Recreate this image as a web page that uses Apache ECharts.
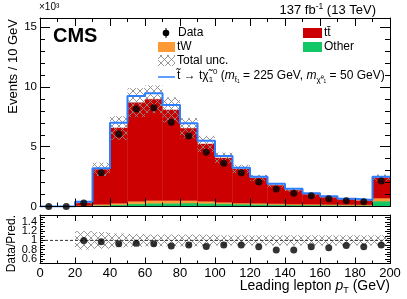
<!DOCTYPE html>
<html><head><meta charset="utf-8">
<script src="https://cdn.jsdelivr.net/npm/echarts@6/dist/echarts.min.js"></script>
<style>html,body{margin:0;padding:0;background:#fff}#c{width:407px;height:299px}</style>
</head><body><div id="c"></div>
<script>
// ---- data (thousands of events per 10 GeV bin) ----
const binLow   = [0,10,20,30,40,50,60,70,80,90,100,110,120,130,140,150,160,170,180,190];
const binWidth = 10;
const other  = [0,0,0.03,0.10,0.15,0.23,0.27,0.27,0.29,0.27,0.23,0.20,0.18,0.15,0.13,0.12,0.11,0.10,0.10,0.45];
const tW     = [0,0,0.05,0.08,0.12,0.20,0.24,0.24,0.21,0.16,0.12,0.09,0.09,0.08,0.07,0.07,0.06,0.05,0.04,0.25];
const ttbar  = [0,0,0.22,2.93,6.30,8.26,8.46,7.57,6.04,4.80,3.71,2.85,2.11,1.54,1.16,0.83,0.60,0.45,0.35,1.71];
const signal = [0,0,0.10,0.09,0.44,0.56,0.50,0.41,0.42,0.28,0.17,0.11,0.11,0.14,0.13,0.08,0.08,0.05,0.05,0.08];
const dataPts= [0,0,0.30,2.83,6.07,8.16,8.27,7.05,5.90,4.54,3.62,2.83,2.05,1.46,1.10,0.90,0.65,0.49,0.40,2.13];
const totUnc = [0,0,0.20,0.18,0.15,0.14,0.13,0.13,0.13,0.13,0.11,0.11,0.11,0.11,0.11,0.11,0.11,0.11,0.11,0.11];
const ratio  = [null,null,1.00,0.97,0.93,0.94,0.93,0.88,0.90,0.87,0.90,0.90,0.86,0.79,0.79,0.86,0.84,0.89,0.86,0.90];
const mainYTicks  = [0,5,10,15];
const ratioYTicks = [0.6,0.8,1,1.2,1.4];

// ---- styles ----
const FONT = '"Liberation Sans", Arial, Helvetica, sans-serif';
const C_TT = '#cc0000', C_TW = '#fd9a35', C_OTH = '#12c866', C_SIG = '#2d7dff';

function makeHatch(){
  const c = document.createElement('canvas'); c.width = 7; c.height = 7;
  const g = c.getContext('2d'); g.strokeStyle = '#8a8a8a'; g.lineWidth = 0.9;
  g.beginPath(); g.moveTo(0,0); g.lineTo(7,7); g.moveTo(7,0); g.lineTo(0,7); g.stroke();
  return c;
}
const hatch = {image: makeHatch(), repeat: 'repeat'};

const cum = (a,b) => a.map((v,i)=>v+b[i]);
const s1 = other, s2 = cum(s1,tW), s3 = cum(s2,ttbar), s4 = cum(s3,signal);

function histSeries(lo, hi, fill, xi, yi, z){
  return {
    type:'custom', xAxisIndex:xi, yAxisIndex:yi, silent:true, z: z||2,
    data: binLow.map((x,i)=>[x, x+binWidth, lo[i], hi[i]]).filter(d=>d[3]>d[2]),
    encode:{x:[0,1], y:[2,3]},
    renderItem(params, api){
      const a = api.coord([api.value(0), api.value(2)]);
      const b = api.coord([api.value(1), api.value(3)]);
      return {type:'rect', shape:{x:a[0], y:b[1], width:b[0]-a[0], height:a[1]-b[1]},
              style:{fill:fill, stroke: typeof fill==='string'?fill:null, lineWidth: typeof fill==='string'?0.4:0}};
    }
  };
}
const zeros = binLow.map(()=>0);
const uncLo = s3.map((v,i)=>v*(1-totUnc[i])), uncHi = s3.map((v,i)=>v*(1+totUnc[i]));
const rLo = totUnc.map((u,i)=> s3[i]>0 ? 1-u : 1), rHi = totUnc.map((u,i)=> s3[i]>0 ? 1+u : 1);

function xAx(grid, pos, labels, tl, ml){
  return {gridIndex:grid, type:'value', position:pos, min:0, max:200, interval:20, z:10,
    axisLine:{show:true, onZero:false, lineStyle:{color:'#000', width:1}},
    axisTick:{show:true, inside:true, length:tl, lineStyle:{color:'#000'}},
    minorTick:{show:true, splitNumber:2, length:ml, lineStyle:{color:'#000'}},
    splitLine:{show:false},
    axisLabel:{show:labels, fontSize:13, fontFamily:FONT, color:'#000', margin:3}};
}
const mainMax = 15.77;
function yMain(pos, labels){
  return {gridIndex:0, type:'value', position:pos, min:0, max:mainMax, interval:5, z:10,
    axisLine:{show:true, onZero:false, lineStyle:{color:'#000'}},
    axisTick:{show:true, inside:true, length:10, lineStyle:{color:'#000'}},
    minorTick:{show:true, splitNumber:5, length:5, lineStyle:{color:'#000'}},
    splitLine:{show:false},
    axisLabel:{show:labels, fontSize:11.5, fontFamily:FONT, color:'#000', margin:3,
      formatter: v => mainYTicks.some(t=>Math.abs(t-v)<1e-6) ? String(Math.round(v)) : ''}};
}
function yRatio(pos, labels){
  return {gridIndex:1, type:'value', position:pos, min:0.5, max:1.55, interval:0.1, z:10,
    axisLine:{show:true, onZero:false, lineStyle:{color:'#000'}},
    axisTick:{show:true, inside:true, length:5, lineStyle:{color:'#000'}},
    minorTick:{show:true, splitNumber:2, length:3, lineStyle:{color:'#000'}},
    splitLine:{show:false},
    axisLabel:{show:labels, fontSize:11, fontFamily:FONT, color:'#000', margin:3, hideOverlap:false,
      formatter: v => { const t = ratioYTicks.find(t=>Math.abs(t-v)<1e-6); return t===undefined ? '' : String(t); }}};
}

const txt = (x,y,text,extra,rot) => ({type:'text', x, y, rotation: rot||0, z:100, style:Object.assign({text, fill:'#000', fontFamily:FONT, fontSize:12, align:'left', verticalAlign:'middle'}, extra||{})});
const richBase = {
  n:{fontFamily:FONT, fontSize:12, lineHeight:16, verticalAlign:'middle'},
  i:{fontFamily:FONT, fontSize:12, fontStyle:'italic', lineHeight:16, verticalAlign:'middle'},
  sb:{fontFamily:FONT, fontSize:8, lineHeight:9, verticalAlign:'bottom'},
  sp:{fontFamily:FONT, fontSize:8, lineHeight:9, verticalAlign:'top'}
};

const option = {
  animation:false,
  backgroundColor:'#fff',
  grid:[
    {left:40, right:17, top:18, height:188.5, show:false},
    {left:40, right:17, top:215, height:48.5, show:false}
  ],
  xAxis:[ xAx(0,'bottom',false,8,4), xAx(0,'top',false,8,4), xAx(1,'bottom',true,6,3), xAx(1,'top',false,6,3) ],
  yAxis:[ yMain('left',true), yMain('right',false), yRatio('left',true), yRatio('right',false) ],
  series:[
    histSeries(zeros, s1, C_OTH, 0, 0, 2),
    histSeries(s1, s2, C_TW, 0, 0, 2),
    histSeries(s2, s3, C_TT, 0, 0, 2),
    histSeries(uncLo, uncHi, hatch, 0, 0, 3),
    {type:'line', xAxisIndex:0, yAxisIndex:0, step:'end', symbol:'none', z:4, silent:true,
     data: binLow.map((x,i)=>[x, s4[i]]).concat([[200, s4[s4.length-1]]]),
     lineStyle:{color:C_SIG, width:2}},
    {type:'scatter', xAxisIndex:0, yAxisIndex:0, symbol:'circle', symbolSize:7, z:5, silent:true,
     itemStyle:{color:'#000'}, data: binLow.map((x,i)=>[x+binWidth/2, dataPts[i]])},
    histSeries(rLo, rHi, hatch, 2, 2, 3),
    {type:'line', xAxisIndex:2, yAxisIndex:2, symbol:'none', z:4, silent:true,
     data:[[0,1],[200,1]], lineStyle:{color:'#333', width:1, type:[3,2]}},
    {type:'scatter', xAxisIndex:2, yAxisIndex:2, symbol:'circle', symbolSize:7, z:5, silent:true,
     itemStyle:{color:'#000'}, data: binLow.map((x,i)=>[x+binWidth/2, ratio[i]]).filter(d=>d[1]!==null)}
  ],
  graphic:[
    txt(39, 7, '×10³', {fontSize:10}),
    {type:'text', x:376, y:10, z:100, style:{text:'{n|137 fb}{sp|-1}{n| (13 TeV)}', align:'right', verticalAlign:'middle', fill:'#000',
      rich:{n:{fontFamily:FONT, fontSize:13, lineHeight:16, verticalAlign:'middle'}, sp:{fontFamily:FONT, fontSize:8.5, lineHeight:9, verticalAlign:'top'}}}},
    txt(53, 36, 'CMS', {fontSize:20, fontWeight:'bold'}),
    txt(13, 19, 'Events / 10 GeV', {fontSize:13, align:'right', verticalAlign:'middle'}, Math.PI/2),
    txt(12, 215, 'Data/Pred.', {fontSize:12, align:'right', verticalAlign:'middle'}, Math.PI/2),
    {type:'text', x:390, y:286, z:100, style:{text:'{n|Leading lepton }{i|p}{sb|T}{n| (GeV)}', align:'right', verticalAlign:'middle', fill:'#000',
      rich:{n:{fontFamily:FONT, fontSize:14, lineHeight:18, verticalAlign:'middle'}, i:{fontFamily:FONT, fontSize:14, fontStyle:'italic', lineHeight:18, verticalAlign:'middle'}, sb:{fontFamily:FONT, fontSize:9, lineHeight:10, verticalAlign:'bottom'}}}},
    // legend
    {type:'line', z:100, shape:{x1:166, y1:28, x2:166, y2:38}, style:{stroke:'#000', lineWidth:1}},
    {type:'circle', z:100, shape:{cx:166, cy:33, r:3.3}, style:{fill:'#000'}},
    txt(178, 33, 'Data'),
    {type:'rect', z:100, shape:{x:303, y:28, width:19, height:10}, style:{fill:C_TT}},
    txt(324, 33, 'tt̄'),
    {type:'rect', z:100, shape:{x:158, y:42, width:17, height:10}, style:{fill:C_TW}},
    txt(177, 47, 'tW'),
    {type:'rect', z:100, shape:{x:303, y:42, width:19, height:10}, style:{fill:C_OTH}},
    txt(324, 47, 'Other'),
    {type:'rect', z:100, shape:{x:158, y:55, width:17, height:11}, style:{fill:hatch}},
    txt(177, 61, 'Total unc.'),
    {type:'line', z:100, shape:{x1:158, y1:77, x2:175, y2:77}, style:{stroke:C_SIG, lineWidth:1.5}},
    {type:'text', x:177, y:76, z:100, style:{text:'{n|t̃ → tχ̃}{sb|1}{sp|0}{n| (}{i|m}{sb|t̃₁}{n| = 225 GeV, }{i|m}{sb|χ̃⁰₁}{n| = 50 GeV)}',
      align:'left', verticalAlign:'middle', fill:'#000', rich:richBase}}
  ]
};
echarts.init(document.getElementById('c'), null, {renderer:'canvas'}).setOption(option);
</script></body></html>
